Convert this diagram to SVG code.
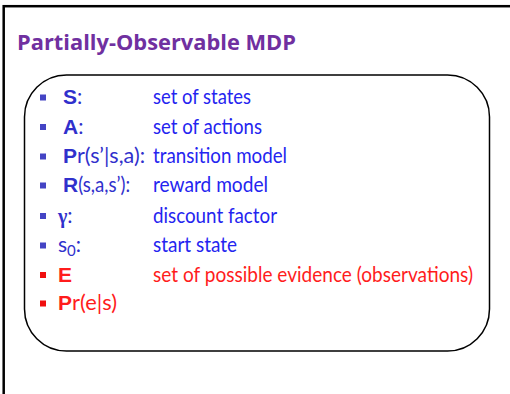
<svg xmlns="http://www.w3.org/2000/svg" width="510" height="394" viewBox="0 0 510 394">
  <style>
    .frame { fill: none; stroke: #000; stroke-width: 2.5; }
    .box { fill: #fff; stroke: #000; stroke-width: 1.5; }
    .title { font-family: "Open Sans", Lato, sans-serif; font-weight: bold; font-size: 21.5px; fill: #7030A0; }
    .lbl { font-family: Lato, "Open Sans", sans-serif; font-size: 21px; }
    .key { font-family: "Liberation Sans", Arial, sans-serif; font-weight: bold; font-size: 21px; }
    .greek { font-family: "Liberation Serif", serif; font-weight: bold; font-size: 20px; }
    .desc { font-family: Lato, "Open Sans", sans-serif; font-size: 21px; }
    .blue { fill: #3030CC; }
    .blueText { fill: #2424F0; }
    .red { fill: #FF1C1C; }
    .bulletBlue { fill: #4444C4; }
    .bulletRed { fill: #F01010; }
  </style>

  <rect width="510" height="394" fill="#fff"/>
  <!-- slide frame -->
  <rect class="frame" x="3.7" y="6.2" width="520" height="400"/>

  <text class="title" x="17" y="50" textLength="279" lengthAdjust="spacingAndGlyphs">Partially-Observable MDP</text>

  <!-- rounded container -->
  <rect class="box" x="24.5" y="75" width="465" height="276" rx="42" ry="42"/>

  <!-- bullets -->
  <g id="bullets">
    <rect class="bulletBlue" x="40" y="94.5" width="6" height="6"/>
    <rect class="bulletBlue" x="40" y="124" width="6" height="6"/>
    <rect class="bulletBlue" x="40" y="153.5" width="6" height="6"/>
    <rect class="bulletBlue" x="40" y="182.5" width="6" height="6"/>
    <rect class="bulletBlue" x="40" y="213" width="6" height="6"/>
    <rect class="bulletBlue" x="40" y="242.5" width="6" height="6"/>
    <rect class="bulletRed" x="40" y="272" width="6" height="6"/>
    <rect class="bulletRed" x="40" y="300.5" width="6" height="6"/>
  </g>

  <g id="row-states">
    <text x="63" y="104"><tspan class="key blue">S</tspan><tspan class="lbl blue">:</tspan></text>
    <text class="desc blueText" x="153" y="104" textLength="98" lengthAdjust="spacingAndGlyphs">set of states</text>
  </g>
  <g id="row-actions">
    <text x="63" y="133.5"><tspan class="key blue">A</tspan><tspan class="lbl blue">:</tspan></text>
    <text class="desc blueText" x="153" y="133.5" textLength="109" lengthAdjust="spacingAndGlyphs">set of actions</text>
  </g>
  <g id="row-transition">
    <text x="63" y="163"><tspan class="key blue">P</tspan><tspan class="lbl blue" textLength="68" lengthAdjust="spacingAndGlyphs">r(s’|s,a):</tspan></text>
    <text class="desc blueText" x="153" y="163" textLength="134" lengthAdjust="spacingAndGlyphs">transition model</text>
  </g>
  <g id="row-reward">
    <text x="63" y="192"><tspan class="key blue">R</tspan><tspan class="lbl blue" textLength="52" lengthAdjust="spacingAndGlyphs">(s,a,s’):</tspan></text>
    <text class="desc blueText" x="153" y="192" textLength="115" lengthAdjust="spacingAndGlyphs">reward model</text>
  </g>
  <g id="row-discount">
    <text x="58" y="222.5"><tspan class="greek blue">γ</tspan><tspan class="lbl blue">:</tspan></text>
    <text class="desc blueText" x="153" y="222.5" textLength="124" lengthAdjust="spacingAndGlyphs">discount factor</text>
  </g>
  <g id="row-start">
    <text class="lbl blue" x="58" y="252">s<tspan font-size="15" dy="4">0</tspan><tspan dy="-4">:</tspan></text>
    <text class="desc blueText" x="153" y="252" textLength="84" lengthAdjust="spacingAndGlyphs">start state</text>
  </g>
  <g id="row-evidence">
    <text class="key red" x="58" y="281.5" font-size="20">E</text>
    <text class="desc red" x="153" y="281.5" textLength="320" lengthAdjust="spacingAndGlyphs">set of possible evidence (observations)</text>
  </g>
  <g id="row-observation">
    <text x="58" y="310"><tspan class="key red">P</tspan><tspan class="lbl red" textLength="45" lengthAdjust="spacingAndGlyphs">r(e|s)</tspan></text>
  </g>
</svg>
